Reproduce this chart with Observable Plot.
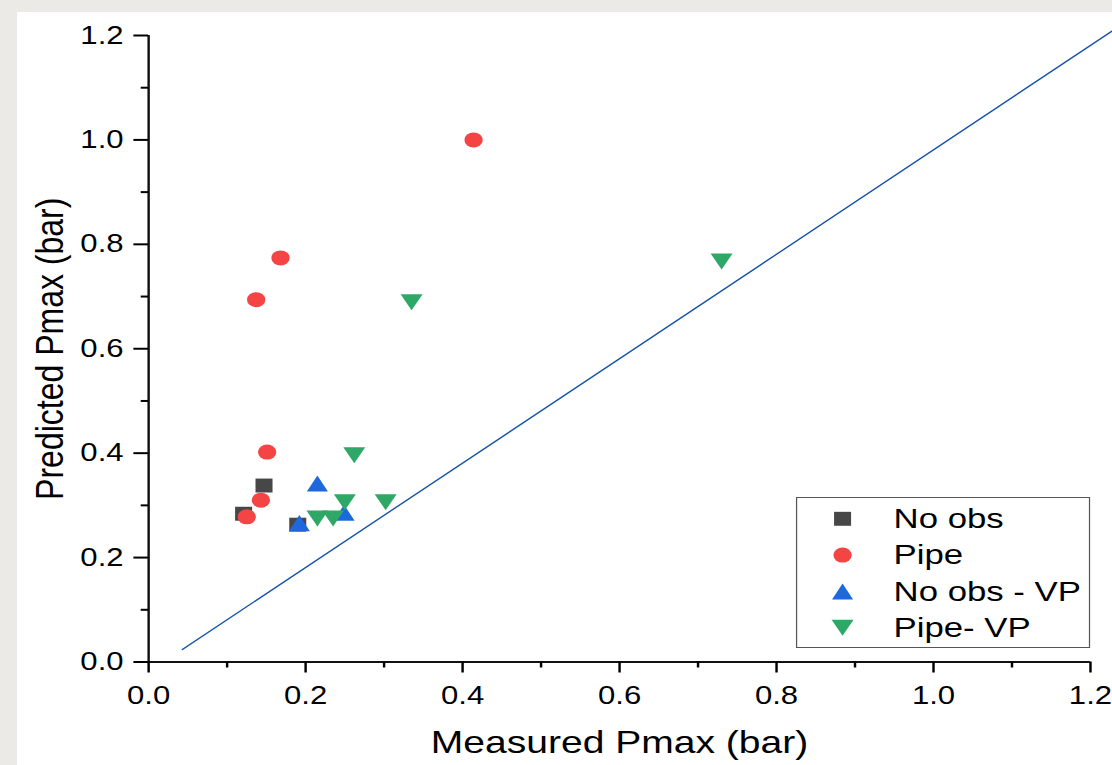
<!DOCTYPE html>
<html><head><meta charset="utf-8">
<script src="https://cdn.jsdelivr.net/npm/d3@7"></script>
<script src="https://cdn.jsdelivr.net/npm/@observablehq/plot@0.6"></script>
<style>
html,body{margin:0;padding:0;background:#ebeae6;width:1112px;height:765px;overflow:hidden;}
#chart{position:absolute;left:17px;top:12px;width:1095px;height:753px;background:#fff;overflow:hidden}
#chart svg{transform:scaleX(1.22);transform-origin:0 0;display:block}
</style></head><body><div id="chart"></div>
<script>
// ---- data ----
const seriesNames = ["No obs", "Pipe", "No obs - VP", "Pipe- VP"];
const seriesColors = ["#474747", "#f44444", "#1c68dc", "#2ea866"];
const noObsX = [0.121, 0.147, 0.190];
const noObsY = [0.284, 0.338, 0.263];
const pipeX = [0.125, 0.143, 0.151, 0.137, 0.168, 0.414];
const pipeY = [0.278, 0.310, 0.402, 0.694, 0.774, 1.000];
const noObsVpX = [0.192, 0.215, 0.249];
const noObsVpY = [0.266, 0.342, 0.286];
const pipeVpX = [0.215, 0.235, 0.250, 0.302, 0.262, 0.335, 0.730];
const pipeVpY = [0.275, 0.275, 0.306, 0.306, 0.396, 0.689, 0.767];
const refLineX = [0.043, 1.23];
const refLineY = [0.024, 1.211];
const majorTicks = [0, 0.2, 0.4, 0.6, 0.8, 1.0, 1.2];
const minorTicks = [0.1, 0.3, 0.5, 0.7, 0.9, 1.1];
const xTitle = "Measured Pmax (bar)";
const yTitle = "Predicted Pmax (bar)";

// ---- symbols ----
const rad = s => Math.sqrt(s / Math.PI);
const symSquare = {draw(c, s) { const h = rad(s) * 0.93; c.rect(-h, -h, 2 * h, 2 * h); }};
const symCircle = {draw(c, s) { const r = rad(s); c.moveTo(r, 0); c.arc(0, 0, r, 0, 2 * Math.PI); }};
const symUp = {draw(c, s) { const r = rad(s), w = r * 1.15, h = r * 1.07; c.moveTo(0, -h); c.lineTo(w, h); c.lineTo(-w, h); c.closePath(); }};
const symDown = {draw(c, s) { const r = rad(s), w = r * 1.2, h = r * 1.07; c.moveTo(0, h); c.lineTo(w, -h); c.lineTo(-w, -h); c.closePath(); }};
const seriesSymbols = [symSquare, symCircle, symUp, symDown];

const pts = (X, Y) => X.map((x, i) => ({x, y: Y[i]}));
const seriesData = [pts(noObsX, noObsY), pts(pipeX, pipeY), pts(noObsVpX, noObsVpY), pts(pipeVpX, pipeVpY)];
const refLine = pts(refLineX, refLineY);

const FONT = "'Liberation Sans', Arial, sans-serif";
const fmt = d => d.toFixed(1);

const legendMarks = seriesNames.flatMap((name, i) => [
  Plot.dot([name], {frameAnchor: "top-left", dx: 568.8, dy: 483.3 + i * 36.3, r: 7.5,
    symbol: seriesSymbols[i], fill: seriesColors[i], stroke: "none"}),
  Plot.text([name], {frameAnchor: "top-left", dx: 610.6, dy: 483.3 + i * 36.3, text: d => d,
    textAnchor: "start", lineAnchor: "middle", fontSize: 28.5, fill: "#000"})
]);

const chart = Plot.plot({
  width: 898,
  height: 753,
  marginLeft: 107.4,
  marginRight: 18.6,
  marginTop: 23,
  marginBottom: 103.5,
  x: {domain: [0, 1.2], label: null},
  y: {domain: [0, 1.2], label: null},
  style: {fontFamily: FONT, fontSize: "25px", color: "#000", background: "transparent", overflow: "visible"},
  marks: [
    Plot.line(refLine, {x: "x", y: "y", stroke: "#1553a8", strokeWidth: 1.3}),
    Plot.ruleY([0], {stroke: "#111", strokeWidth: 2}),
    Plot.ruleX([0], {stroke: "#111", strokeWidth: 2}),
    Plot.axisX(majorTicks, {tickSize: 11, tickPadding: 12.5, tickFormat: fmt, fontSize: 25.5, strokeWidth: 2, label: null}),
    Plot.axisX(minorTicks, {tickSize: 6, tickFormat: () => "", strokeWidth: 2, label: null}),
    Plot.axisY(majorTicks, {tickSize: 12, tickPadding: 8.5, tickFormat: fmt, fontSize: 25.5, strokeWidth: 2, label: null}),
    Plot.axisY(minorTicks, {tickSize: 6, tickFormat: () => "", strokeWidth: 2, label: null}),
    ...seriesData.map((data, i) => Plot.dot(data, {x: "x", y: "y", r: 7.5,
      symbol: seriesSymbols[i], fill: seriesColors[i], stroke: "none"})),
    Plot.frame({fill: "white", stroke: "#555", strokeWidth: 1,
      insetLeft: 531.1, insetRight: 0.8, insetTop: 462, insetBottom: 14.5}),
    ...legendMarks,
    Plot.text([xTitle], {frameAnchor: "bottom", dy: 81, text: d => d, fontSize: 32,
      lineAnchor: "middle", textAnchor: "middle", fill: "#000"}),
    Plot.text([yTitle], {frameAnchor: "left", dx: -80.7, text: d => d, rotate: -90, fontSize: 32,
      lineAnchor: "middle", textAnchor: "middle", fill: "#000"})
  ]
});
document.getElementById("chart").appendChild(chart);
</script>
</body></html>
